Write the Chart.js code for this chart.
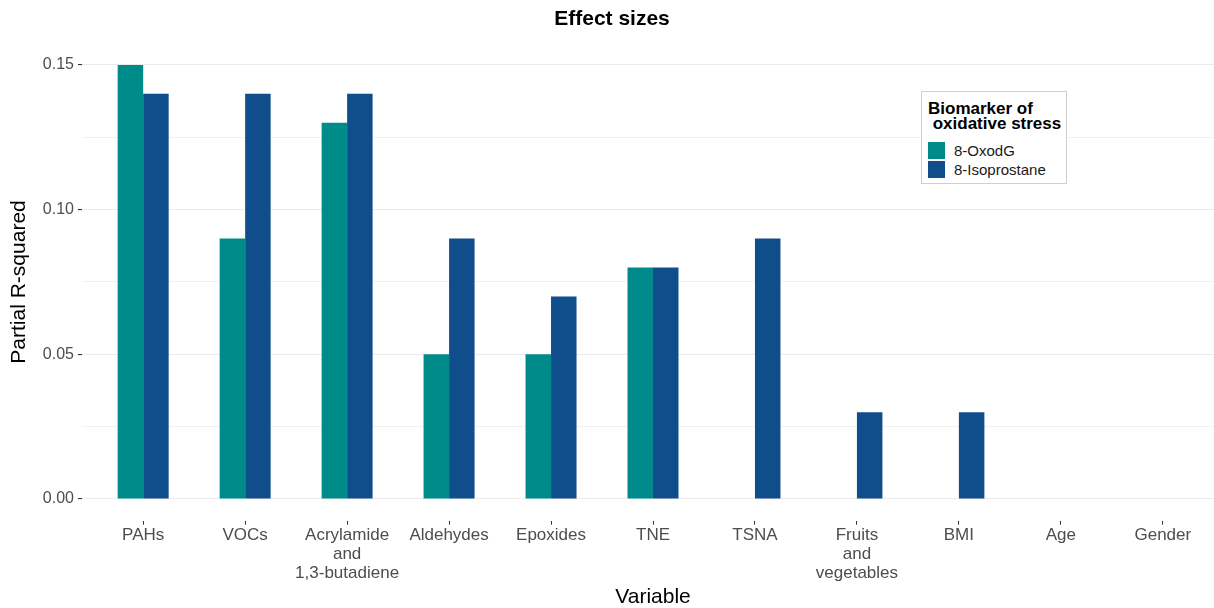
<!DOCTYPE html>
<html>
<head>
<meta charset="utf-8">
<script src="https://cdn.jsdelivr.net/npm/chart.js@4.4.1/dist/chart.umd.min.js"></script>
<style>
    html, body {
        margin: 0;
        padding: 0;
        background: #ffffff;
        overflow: hidden;
    }
    #wrap {
        position: relative;
        width: 1306px;
        height: 608px;
    }
    #legendBox {
        position: absolute;
        left: 921px;
        top: 91px;
        width: 144px;
        height: 91px;
        border: 1px solid #cfcfcf;
        background: #ffffff;
        font-family: "Liberation Sans", Arial, sans-serif;
    }
    #legendBox .title {
        position: absolute;
        left: 6px;
        top: 9px;
        font-size: 17px;
        font-weight: bold;
        line-height: 15px;
        color: #000000;
        white-space: pre;
    }
    #legendBox .item {
        position: absolute;
        left: 6px;
        height: 17px;
        display: flex;
        align-items: center;
        font-size: 15px;
        color: #1a1a1a;
    }
    #legendBox .swatch {
        width: 17px;
        height: 17px;
        margin-right: 9px;
    }
</style>
</head>
<body>
<div id="wrap">
    <canvas id="effectChart" width="1306" height="608"></canvas>
    <div id="legendBox"></div>
</div>
<script>
// Categories on the x axis (arrays are multi-line labels)
const variables = [
    'PAHs',
    'VOCs',
    ['Acrylamide', 'and', '1,3-butadiene'],
    'Aldehydes',
    'Epoxides',
    'TNE',
    'TSNA',
    ['Fruits', 'and', 'vegetables'],
    'BMI',
    'Age',
    'Gender'
];

// Partial R-squared for each biomarker (null = no bar)
const oxodgValues = [0.15, 0.09, 0.13, 0.05, 0.05, 0.08, null, null, null, null, null];
const isoprostaneValues = [0.14, 0.14, 0.14, 0.09, 0.07, 0.08, 0.09, 0.03, 0.03, null, null];

const seriesNames = ['8-OxodG', '8-Isoprostane'];
const legendTitle = 'Biomarker of\n oxidative stress';

// Y gridlines: labelled every 0.05, minor lines in between
const yTicks = [0, 0.025, 0.05, 0.075, 0.1, 0.125, 0.15];

const seriesColors = ['#008B8B', '#104E8B'];

// Turn a values array into {x, y} points on the numeric category index
function toPoints(values) {
    return values.map((v, i) => ({ x: i, y: v }));
}

function isMajor(value) {
    return Math.round(value * 1000) % 50 === 0;
}

const ctx = document.getElementById('effectChart').getContext('2d');

const chartConfig = {
    type: 'bar',
    data: {
        datasets: [
            {
                label: seriesNames[0],
                data: toPoints(oxodgValues),
                backgroundColor: seriesColors[0],
            },
            {
                label: seriesNames[1],
                data: toPoints(isoprostaneValues),
                backgroundColor: seriesColors[1],
            },
        ],
    },
    options: {
        responsive: false,
        animation: false,
        categoryPercentage: 0.5,
        barPercentage: 1.0,
        layout: {
            padding: { left: 0, right: 82, top: 0, bottom: 0 },
        },
        scales: {
            x: {
                type: 'linear',
                min: -0.6,
                max: variables.length - 0.4,
                offset: false,
                afterBuildTicks: (scale) => {
                    scale.ticks = variables.map((v, i) => ({ value: i }));
                },
                afterFit: (scale) => {
                    scale.height = 87.3;
                },
                border: { display: false },
                grid: {
                    offset: false,
                    drawOnChartArea: false,
                    drawTicks: true,
                    tickLength: 4,
                    tickColor: '#333333',
                },
                ticks: {
                    autoSkip: false,
                    maxRotation: 0,
                    padding: 1,
                    color: '#4d4d4d',
                    font: { family: '"Liberation Sans", Arial, sans-serif', size: 17, lineHeight: 1.12 },
                    callback: (value) => variables[value],
                },
                title: {
                    display: true,
                    text: 'Variable',
                    color: '#000000',
                    padding: { top: 0, bottom: -2 },
                    font: { family: '"Liberation Sans", Arial, sans-serif', size: 21, lineHeight: 1.2 },
                },
            },
            y: {
                min: -0.0075,
                max: 0.1575,
                afterBuildTicks: (scale) => {
                    scale.ticks = yTicks.map(v => ({ value: v }));
                },
                afterFit: (scale) => {
                    scale.width = 82;
                },
                border: { display: false },
                grid: {
                    color: '#ebebeb',
                    lineWidth: (c) => (c.tick && isMajor(c.tick.value) ? 1.1 : 0.7),
                    tickLength: 4,
                    tickColor: (c) => (c.tick && isMajor(c.tick.value) ? '#333333' : 'rgba(0,0,0,0)'),
                },
                ticks: {
                    padding: 4,
                    color: '#4d4d4d',
                    font: { family: '"Liberation Sans", Arial, sans-serif', size: 16 },
                    callback: (value) => (isMajor(value) ? value.toFixed(2) : ''),
                },
                title: {
                    display: true,
                    text: 'Partial R-squared',
                    color: '#000000',
                    padding: { top: 7, bottom: 0 },
                    font: { family: '"Liberation Sans", Arial, sans-serif', size: 21, lineHeight: 1.2 },
                },
            },
        },
        plugins: {
            legend: { display: false },
            tooltip: { enabled: false },
            title: {
                display: true,
                text: 'Effect sizes',
                color: '#000000',
                padding: { top: 7, bottom: 11 },
                font: { family: '"Liberation Sans", Arial, sans-serif', size: 21, weight: 'bold', lineHeight: 1.2 },
            },
        },
    },
};

const chart = new Chart(ctx, chartConfig);

// Legend box inside the plot, built from the chart datasets
function buildLegend(chart) {
    const box = document.getElementById('legendBox');
    const title = document.createElement('div');
    title.className = 'title';
    title.textContent = legendTitle;
    box.appendChild(title);

    chart.data.datasets.forEach((ds, i) => {
        const item = document.createElement('div');
        item.className = 'item';
        item.style.top = (50 + i * 19) + 'px';
        const swatch = document.createElement('span');
        swatch.className = 'swatch';
        swatch.style.background = ds.backgroundColor;
        const label = document.createElement('span');
        label.textContent = ds.label;
        item.appendChild(swatch);
        item.appendChild(label);
        box.appendChild(item);
    });
}

buildLegend(chart);
</script>
</body>
</html>
